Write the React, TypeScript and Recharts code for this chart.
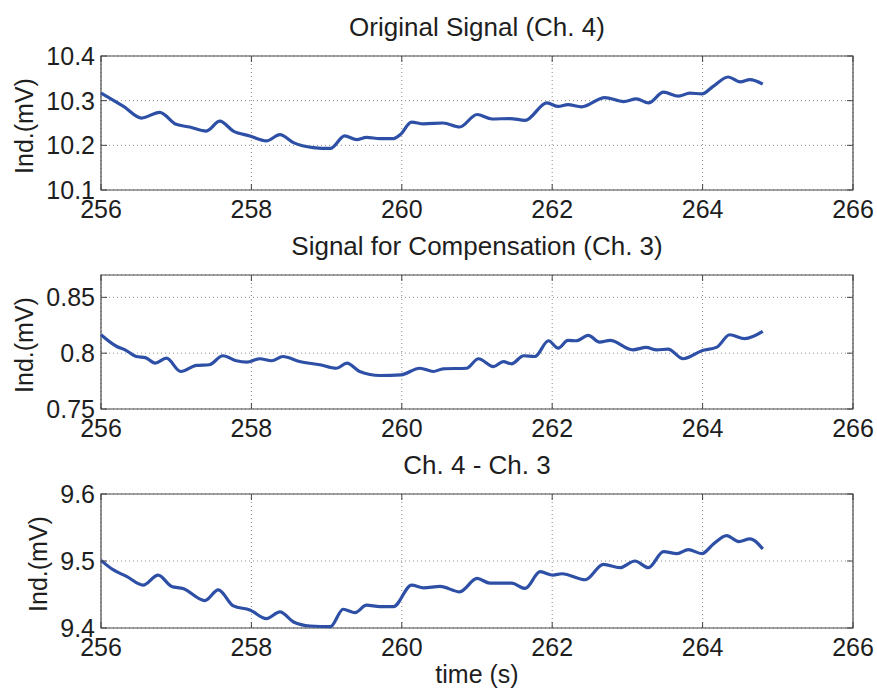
import React from 'react'
import { CartesianGrid, Line, LineChart, ReferenceArea, XAxis, YAxis } from 'recharts'

// values
const ch4Time = [256.0, 256.3, 256.54, 256.78, 257.0, 257.18, 257.4, 257.58, 257.76, 257.98, 258.2, 258.38, 258.56, 258.82, 259.05, 259.24, 259.4, 259.53, 259.71, 259.89, 259.98, 260.13, 260.29, 260.55, 260.77, 261.0, 261.2, 261.44, 261.64, 261.93, 262.08, 262.21, 262.39, 262.7, 262.95, 263.12, 263.28, 263.48, 263.68, 263.83, 263.99, 264.14, 264.34, 264.5, 264.63, 264.8]
const ch4Values = [10.317, 10.287, 10.261, 10.274, 10.247, 10.241, 10.232, 10.254, 10.232, 10.221, 10.21, 10.224, 10.206, 10.195, 10.193, 10.221, 10.213, 10.218, 10.215, 10.215, 10.224, 10.252, 10.248, 10.25, 10.241, 10.269, 10.259, 10.26, 10.256, 10.295, 10.287, 10.291, 10.286, 10.307, 10.298, 10.304, 10.295, 10.319, 10.31, 10.317, 10.315, 10.332, 10.353, 10.342, 10.347, 10.337]

const ch3Time = [256.0, 256.21, 256.32, 256.47, 256.59, 256.72, 256.87, 257.06, 257.27, 257.44, 257.62, 257.8, 257.94, 258.11, 258.27, 258.42, 258.64, 258.91, 259.13, 259.27, 259.44, 259.71, 259.99, 260.24, 260.42, 260.55, 260.86, 261.02, 261.22, 261.35, 261.46, 261.62, 261.77, 261.95, 262.08, 262.21, 262.32, 262.48, 262.63, 262.77, 263.07, 263.25, 263.39, 263.54, 263.74, 263.99, 264.19, 264.36, 264.56, 264.8]
const ch3Values = [0.8165, 0.806, 0.803, 0.797, 0.796, 0.791, 0.7955, 0.7836, 0.789, 0.7896, 0.7977, 0.7932, 0.792, 0.795, 0.7932, 0.797, 0.7925, 0.7896, 0.7865, 0.791, 0.7836, 0.78, 0.7806, 0.7865, 0.7836, 0.786, 0.7865, 0.795, 0.788, 0.7925, 0.7905, 0.7977, 0.797, 0.8111, 0.8045, 0.8114, 0.8111, 0.8159, 0.8099, 0.8114, 0.803, 0.8051, 0.803, 0.8036, 0.795, 0.8022, 0.8054, 0.8165, 0.813, 0.8195]

const diffTime = [256.0, 256.16, 256.34, 256.56, 256.76, 256.94, 257.09, 257.38, 257.56, 257.76, 257.98, 258.2, 258.38, 258.56, 258.78, 259.05, 259.22, 259.38, 259.53, 259.71, 259.89, 260.13, 260.29, 260.51, 260.77, 261.0, 261.17, 261.46, 261.64, 261.84, 262.01, 262.13, 262.44, 262.68, 262.9, 263.1, 263.28, 263.48, 263.66, 263.81, 263.99, 264.14, 264.32, 264.48, 264.63, 264.8]
const diffValues = [9.501, 9.487, 9.477, 9.464, 9.479, 9.462, 9.459, 9.441, 9.457, 9.433, 9.427, 9.414, 9.424, 9.409, 9.403, 9.402, 9.428, 9.423, 9.434, 9.432, 9.432, 9.464, 9.46, 9.462, 9.454, 9.474, 9.467, 9.467, 9.459, 9.484, 9.479, 9.481, 9.472, 9.495, 9.49, 9.5, 9.49, 9.514, 9.511, 9.517, 9.511, 9.525, 9.538, 9.529, 9.533, 9.518]

const timeTicks = [256, 258, 260, 262, 264, 266]
const ch4Ticks = [10.1, 10.2, 10.3, 10.4]
const ch3Ticks = [0.75, 0.8, 0.85]
const diffTicks = [9.4, 9.5, 9.6]

const FONT = '"Liberation Sans", Arial, Helvetica, sans-serif'
const TEXT = '#1e1e1e'
const LINE = '#2d4fa6'
const TICK_FS = 25
const TITLE_FS = 26
const TOP = 40
const PLOT_H = 134
const LEFT = 101
const RIGHT = 853

const toRows = (t: number[], v: number[]) => t.map((time, i) => ({ t: time, v: v[i] }))

const XTick = ({ x, payload }: any) => (
    <g>
        <line x1={x} x2={x} y1={TOP + PLOT_H} y2={TOP + PLOT_H - 6} stroke="#444" />
        <line x1={x} x2={x} y1={TOP} y2={TOP + 6} stroke="#444" />
        <text x={x} y={TOP + PLOT_H + 28} textAnchor="middle" fontSize={TICK_FS} fill={TEXT} fontFamily={FONT}>
            {payload.value}
        </text>
    </g>
)

const YTick = ({ y, payload }: any) => (
    <g>
        <line x1={LEFT} x2={LEFT + 6} y1={y} y2={y} stroke="#444" />
        <line x1={RIGHT} x2={RIGHT - 6} y1={y} y2={y} stroke="#444" />
        <text x={LEFT - 6} y={y} dy={9} textAnchor="end" fontSize={TICK_FS} fill={TEXT} fontFamily={FONT}>
            {String(payload.value)}
        </text>
    </g>
)

const YLabel = ({ viewBox, cx }: any) => {
    const cy = viewBox.y + viewBox.height / 2 + 3
    return (
        <text x={cx} y={cy} dy={9} transform={`rotate(-90 ${cx} ${cy})`} textAnchor="middle"
            fontSize={TICK_FS} fill={TEXT} fontFamily={FONT}>
            Ind.(mV)
        </text>
    )
}

const TimeLabel = ({ viewBox }: any) => (
    <text x={viewBox.x + viewBox.width / 2} y={TOP + PLOT_H + 55} textAnchor="middle"
        fontSize={TICK_FS} fill={TEXT} fontFamily={FONT}>
        time (s)
    </text>
)

interface PanelProps {
    title: string
    rows: { t: number; v: number }[]
    domain: [number, number]
    ticks: number[]
    plotTop: number
    labelX: number
    withTime?: boolean
}

function Panel({ title, rows, domain, ticks, plotTop, labelX, withTime }: PanelProps) {
    const xHeight = withTime ? 70 : 45
    return (
        <div style={{ position: 'absolute', left: 0, top: plotTop - TOP, width: 877 }}>
            <div style={{
                position: 'absolute', left: LEFT, width: RIGHT - LEFT, top: TOP - 42, textAlign: 'center',
                fontFamily: FONT, fontSize: TITLE_FS, lineHeight: '26px', color: TEXT, whiteSpace: 'nowrap'
            }}>
                {title}
            </div>
            <LineChart width={877} height={TOP + PLOT_H + xHeight} data={rows}
                margin={{ top: TOP, right: 877 - RIGHT, bottom: 0, left: 0 }}>
                <CartesianGrid stroke="#8a8a8a" strokeDasharray="1 3" />
                <XAxis dataKey="t" type="number" domain={[256, 266]} ticks={timeTicks} interval={0}
                    tick={<XTick />} tickLine={false} axisLine={false} height={xHeight}
                    label={withTime ? <TimeLabel /> : undefined} />
                <YAxis type="number" domain={domain} ticks={ticks} interval={0} width={LEFT}
                    tick={<YTick />} tickLine={false} axisLine={false}
                    label={<YLabel cx={labelX} />} />
                <ReferenceArea x1={256} x2={266} y1={domain[0]} y2={domain[1]} fill="none" stroke="#4a4a4a" strokeWidth={1.2} />
                <Line dataKey="v" type="monotone" stroke={LINE} strokeWidth={3.2} dot={false} isAnimationActive={false} />
            </LineChart>
        </div>
    )
}

export default function App() {
    return (
        <div style={{ position: 'absolute', left: 0, top: 0, width: 877, height: 689, overflow: 'hidden', background: '#fff' }}>
            <Panel title="Original Signal (Ch. 4)" rows={toRows(ch4Time, ch4Values)} domain={[10.1, 10.4]}
                ticks={ch4Ticks} plotTop={56} labelX={24} />
            <Panel title="Signal for Compensation (Ch. 3)" rows={toRows(ch3Time, ch3Values)} domain={[0.75, 0.87]}
                ticks={ch3Ticks} plotTop={275} labelX={24} />
            <Panel title="Ch. 4 - Ch. 3" rows={toRows(diffTime, diffValues)} domain={[9.4, 9.6]}
                ticks={diffTicks} plotTop={494} labelX={38} withTime />
        </div>
    )
}
